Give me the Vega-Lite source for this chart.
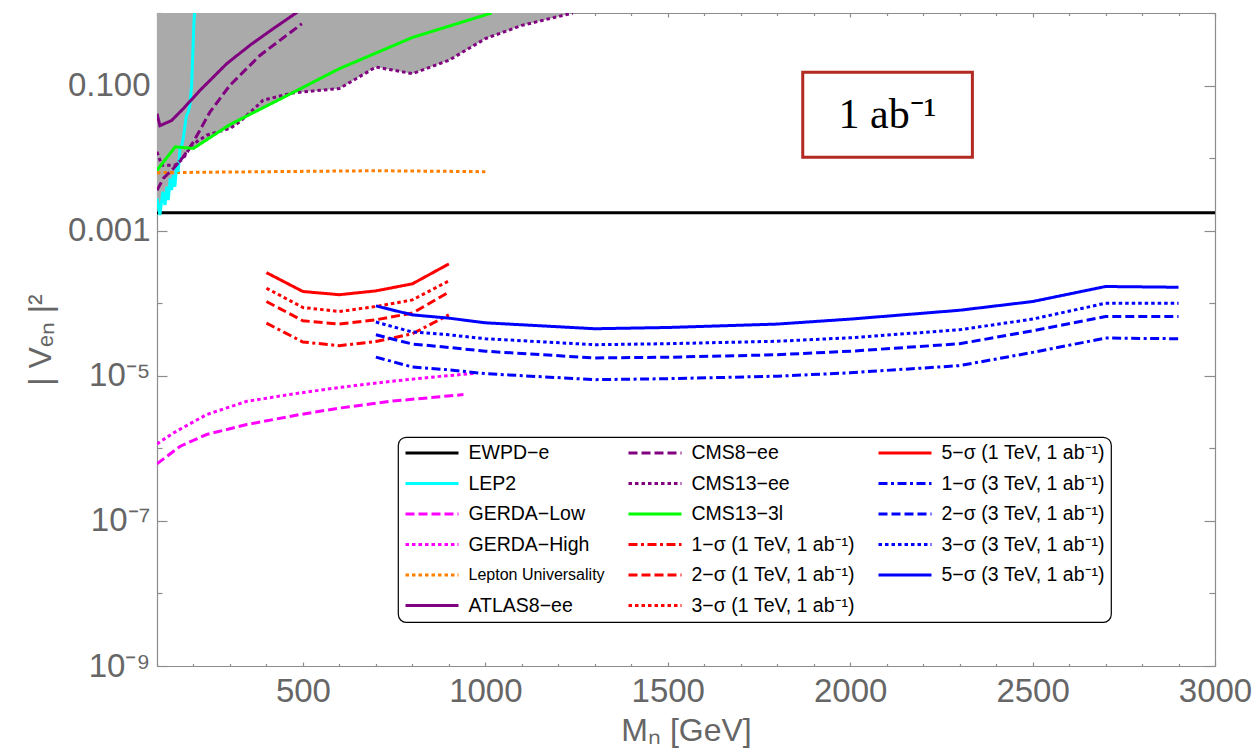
{
  "$schema": "https://vega.github.io/schema/vega-lite/v6.json",
  "width": 1058,
  "height": 653,
  "autosize": "none",
  "padding": {"left": 157, "top": 13, "right": 38, "bottom": 83},
  "background": "white",
  "datasets": {
    "curves": [
      {"series": "EWPD−e", "mass": 100, "mix": 0.00177},
      {"series": "EWPD−e", "mass": 3000, "mix": 0.00177},

      {"series": "Lepton Universality", "mass": 100, "mix": 0.0063},
      {"series": "Lepton Universality", "mass": 400, "mix": 0.0065},
      {"series": "Lepton Universality", "mass": 700, "mix": 0.0067},
      {"series": "Lepton Universality", "mass": 1000, "mix": 0.0065},

      {"series": "LEP2", "mass": 100, "mix": 0.00279},
      {"series": "LEP2", "mass": 108, "mix": 0.00164},
      {"series": "LEP2", "mass": 116, "mix": 0.00344},
      {"series": "LEP2", "mass": 122, "mix": 0.00226},
      {"series": "LEP2", "mass": 127, "mix": 0.00403},
      {"series": "LEP2", "mass": 131, "mix": 0.00264},
      {"series": "LEP2", "mass": 136, "mix": 0.00526},
      {"series": "LEP2", "mass": 140, "mix": 0.00363},
      {"series": "LEP2", "mass": 145, "mix": 0.00584},
      {"series": "LEP2", "mass": 149, "mix": 0.00403},
      {"series": "LEP2", "mass": 154, "mix": 0.00801},
      {"series": "LEP2", "mass": 158, "mix": 0.00648},
      {"series": "LEP2", "mass": 163, "mix": 0.0136},
      {"series": "LEP2", "mass": 168, "mix": 0.0151},
      {"series": "LEP2", "mass": 172, "mix": 0.0187},
      {"series": "LEP2", "mass": 177, "mix": 0.0284},
      {"series": "LEP2", "mass": 181, "mix": 0.039},
      {"series": "LEP2", "mass": 186, "mix": 0.0434},
      {"series": "LEP2", "mass": 190, "mix": 0.0536},
      {"series": "LEP2", "mass": 195, "mix": 0.101},
      {"series": "LEP2", "mass": 198, "mix": 0.261},
      {"series": "LEP2", "mass": 201, "mix": 0.675},
      {"series": "LEP2", "mass": 204, "mix": 1.3},

      {"series": "ATLAS8−ee", "mass": 100, "mix": 0.041},
      {"series": "ATLAS8−ee", "mass": 108, "mix": 0.028},
      {"series": "ATLAS8−ee", "mass": 140, "mix": 0.033},
      {"series": "ATLAS8−ee", "mass": 172, "mix": 0.048},
      {"series": "ATLAS8−ee", "mass": 218, "mix": 0.086},
      {"series": "ATLAS8−ee", "mass": 291, "mix": 0.2},
      {"series": "ATLAS8−ee", "mass": 355, "mix": 0.36},
      {"series": "ATLAS8−ee", "mass": 419, "mix": 0.61},
      {"series": "ATLAS8−ee", "mass": 485, "mix": 1.03},

      {"series": "CMS8−ee", "mass": 100, "mix": 0.0036},
      {"series": "CMS8−ee", "mass": 118, "mix": 0.0053},
      {"series": "CMS8−ee", "mass": 145, "mix": 0.0072},
      {"series": "CMS8−ee", "mass": 172, "mix": 0.0104},
      {"series": "CMS8−ee", "mass": 200, "mix": 0.0168},
      {"series": "CMS8−ee", "mass": 245, "mix": 0.043},
      {"series": "CMS8−ee", "mass": 300, "mix": 0.101},
      {"series": "CMS8−ee", "mass": 382, "mix": 0.26},
      {"series": "CMS8−ee", "mass": 497, "mix": 0.71},

      {"series": "CMS13−ee", "mass": 100, "mix": 0.0122},
      {"series": "CMS13−ee", "mass": 113, "mix": 0.008},
      {"series": "CMS13−ee", "mass": 150, "mix": 0.008},
      {"series": "CMS13−ee", "mass": 172, "mix": 0.0099},
      {"series": "CMS13−ee", "mass": 195, "mix": 0.0151},
      {"series": "CMS13−ee", "mass": 236, "mix": 0.0207},
      {"series": "CMS13−ee", "mass": 300, "mix": 0.0256},
      {"series": "CMS13−ee", "mass": 327, "mix": 0.0316},
      {"series": "CMS13−ee", "mass": 391, "mix": 0.0628},
      {"series": "CMS13−ee", "mass": 470, "mix": 0.079},
      {"series": "CMS13−ee", "mass": 600, "mix": 0.091},
      {"series": "CMS13−ee", "mass": 700, "mix": 0.18},
      {"series": "CMS13−ee", "mass": 800, "mix": 0.146},
      {"series": "CMS13−ee", "mass": 900, "mix": 0.223},
      {"series": "CMS13−ee", "mass": 1000, "mix": 0.443},
      {"series": "CMS13−ee", "mass": 1100, "mix": 0.675},
      {"series": "CMS13−ee", "mass": 1240, "mix": 1.0},

      {"series": "CMS13−3l", "mass": 100, "mix": 0.0068},
      {"series": "CMS13−3l", "mass": 150, "mix": 0.0143},
      {"series": "CMS13−3l", "mass": 200, "mix": 0.0136},
      {"series": "CMS13−3l", "mass": 300, "mix": 0.029},
      {"series": "CMS13−3l", "mass": 450, "mix": 0.07},
      {"series": "CMS13−3l", "mass": 600, "mix": 0.171},
      {"series": "CMS13−3l", "mass": 800, "mix": 0.46},
      {"series": "CMS13−3l", "mass": 1017, "mix": 1.0},

      {"series": "GERDA−High", "mass": 100, "mix": 1.15e-6},
      {"series": "GERDA−High", "mass": 145, "mix": 1.63e-6},
      {"series": "GERDA−High", "mass": 236, "mix": 2.92e-6},
      {"series": "GERDA−High", "mass": 346, "mix": 4.45e-6},
      {"series": "GERDA−High", "mass": 492, "mix": 5.8e-6},
      {"series": "GERDA−High", "mass": 602, "mix": 6.92e-6},
      {"series": "GERDA−High", "mass": 739, "mix": 8.37e-6},
      {"series": "GERDA−High", "mass": 876, "mix": 9.81e-6},
      {"series": "GERDA−High", "mass": 970, "mix": 1.08e-5},

      {"series": "GERDA−Low", "mass": 100, "mix": 6.12e-7},
      {"series": "GERDA−Low", "mass": 164, "mix": 1.07e-6},
      {"series": "GERDA−Low", "mass": 236, "mix": 1.55e-6},
      {"series": "GERDA−Low", "mass": 346, "mix": 2.13e-6},
      {"series": "GERDA−Low", "mass": 492, "mix": 2.92e-6},
      {"series": "GERDA−Low", "mass": 602, "mix": 3.6e-6},
      {"series": "GERDA−Low", "mass": 739, "mix": 4.45e-6},
      {"series": "GERDA−Low", "mass": 940, "mix": 5.5e-6},

      {"series": "5−σ (1 TeV, 1 ab⁻¹)", "mass": 400, "mix": 2.64e-4},
      {"series": "5−σ (1 TeV, 1 ab⁻¹)", "mass": 500, "mix": 1.45e-4},
      {"series": "5−σ (1 TeV, 1 ab⁻¹)", "mass": 600, "mix": 1.31e-4},
      {"series": "5−σ (1 TeV, 1 ab⁻¹)", "mass": 700, "mix": 1.48e-4},
      {"series": "5−σ (1 TeV, 1 ab⁻¹)", "mass": 800, "mix": 1.85e-4},
      {"series": "5−σ (1 TeV, 1 ab⁻¹)", "mass": 900, "mix": 3.48e-4},

      {"series": "3−σ (1 TeV, 1 ab⁻¹)", "mass": 400, "mix": 1.61e-4},
      {"series": "3−σ (1 TeV, 1 ab⁻¹)", "mass": 500, "mix": 8.73e-5},
      {"series": "3−σ (1 TeV, 1 ab⁻¹)", "mass": 600, "mix": 7.69e-5},
      {"series": "3−σ (1 TeV, 1 ab⁻¹)", "mass": 700, "mix": 9.01e-5},
      {"series": "3−σ (1 TeV, 1 ab⁻¹)", "mass": 800, "mix": 1.11e-4},
      {"series": "3−σ (1 TeV, 1 ab⁻¹)", "mass": 900, "mix": 2.03e-4},

      {"series": "2−σ (1 TeV, 1 ab⁻¹)", "mass": 400, "mix": 1.055e-4},
      {"series": "2−σ (1 TeV, 1 ab⁻¹)", "mass": 500, "mix": 5.73e-5},
      {"series": "2−σ (1 TeV, 1 ab⁻¹)", "mass": 600, "mix": 5.16e-5},
      {"series": "2−σ (1 TeV, 1 ab⁻¹)", "mass": 700, "mix": 5.91e-5},
      {"series": "2−σ (1 TeV, 1 ab⁻¹)", "mass": 800, "mix": 7.31e-5},
      {"series": "2−σ (1 TeV, 1 ab⁻¹)", "mass": 900, "mix": 1.42e-4},

      {"series": "1−σ (1 TeV, 1 ab⁻¹)", "mass": 400, "mix": 5.32e-5},
      {"series": "1−σ (1 TeV, 1 ab⁻¹)", "mass": 500, "mix": 2.92e-5},
      {"series": "1−σ (1 TeV, 1 ab⁻¹)", "mass": 600, "mix": 2.6e-5},
      {"series": "1−σ (1 TeV, 1 ab⁻¹)", "mass": 700, "mix": 2.97e-5},
      {"series": "1−σ (1 TeV, 1 ab⁻¹)", "mass": 800, "mix": 3.79e-5},
      {"series": "1−σ (1 TeV, 1 ab⁻¹)", "mass": 900, "mix": 6.92e-5},

      {"series": "5−σ (3 TeV, 1 ab⁻¹)", "mass": 700, "mix": 9.18e-5},
      {"series": "5−σ (3 TeV, 1 ab⁻¹)", "mass": 800, "mix": 6.91e-5},
      {"series": "5−σ (3 TeV, 1 ab⁻¹)", "mass": 900, "mix": 6.23e-5},
      {"series": "5−σ (3 TeV, 1 ab⁻¹)", "mass": 1000, "mix": 5.37e-5},
      {"series": "5−σ (3 TeV, 1 ab⁻¹)", "mass": 1300, "mix": 4.45e-5},
      {"series": "5−σ (3 TeV, 1 ab⁻¹)", "mass": 1500, "mix": 4.63e-5},
      {"series": "5−σ (3 TeV, 1 ab⁻¹)", "mass": 1800, "mix": 5.16e-5},
      {"series": "5−σ (3 TeV, 1 ab⁻¹)", "mass": 2000, "mix": 6.04e-5},
      {"series": "5−σ (3 TeV, 1 ab⁻¹)", "mass": 2300, "mix": 8.0e-5},
      {"series": "5−σ (3 TeV, 1 ab⁻¹)", "mass": 2500, "mix": 1.055e-4},
      {"series": "5−σ (3 TeV, 1 ab⁻¹)", "mass": 2700, "mix": 1.7e-4},
      {"series": "5−σ (3 TeV, 1 ab⁻¹)", "mass": 2900, "mix": 1.66e-4},

      {"series": "3−σ (3 TeV, 1 ab⁻¹)", "mass": 700, "mix": 5.5e-5},
      {"series": "3−σ (3 TeV, 1 ab⁻¹)", "mass": 800, "mix": 4.01e-5},
      {"series": "3−σ (3 TeV, 1 ab⁻¹)", "mass": 900, "mix": 3.67e-5},
      {"series": "3−σ (3 TeV, 1 ab⁻¹)", "mass": 1000, "mix": 3.24e-5},
      {"series": "3−σ (3 TeV, 1 ab⁻¹)", "mass": 1300, "mix": 2.68e-5},
      {"series": "3−σ (3 TeV, 1 ab⁻¹)", "mass": 1500, "mix": 2.77e-5},
      {"series": "3−σ (3 TeV, 1 ab⁻¹)", "mass": 1800, "mix": 2.99e-5},
      {"series": "3−σ (3 TeV, 1 ab⁻¹)", "mass": 2000, "mix": 3.34e-5},
      {"series": "3−σ (3 TeV, 1 ab⁻¹)", "mass": 2300, "mix": 4.31e-5},
      {"series": "3−σ (3 TeV, 1 ab⁻¹)", "mass": 2500, "mix": 6.04e-5},
      {"series": "3−σ (3 TeV, 1 ab⁻¹)", "mass": 2700, "mix": 1.0e-4},
      {"series": "3−σ (3 TeV, 1 ab⁻¹)", "mass": 2900, "mix": 1.0e-4},

      {"series": "2−σ (3 TeV, 1 ab⁻¹)", "mass": 700, "mix": 3.67e-5},
      {"series": "2−σ (3 TeV, 1 ab⁻¹)", "mass": 800, "mix": 2.74e-5},
      {"series": "2−σ (3 TeV, 1 ab⁻¹)", "mass": 900, "mix": 2.46e-5},
      {"series": "2−σ (3 TeV, 1 ab⁻¹)", "mass": 1000, "mix": 2.18e-5},
      {"series": "2−σ (3 TeV, 1 ab⁻¹)", "mass": 1300, "mix": 1.76e-5},
      {"series": "2−σ (3 TeV, 1 ab⁻¹)", "mass": 1500, "mix": 1.8e-5},
      {"series": "2−σ (3 TeV, 1 ab⁻¹)", "mass": 1800, "mix": 1.95e-5},
      {"series": "2−σ (3 TeV, 1 ab⁻¹)", "mass": 2000, "mix": 2.18e-5},
      {"series": "2−σ (3 TeV, 1 ab⁻¹)", "mass": 2300, "mix": 2.76e-5},
      {"series": "2−σ (3 TeV, 1 ab⁻¹)", "mass": 2500, "mix": 4.17e-5},
      {"series": "2−σ (3 TeV, 1 ab⁻¹)", "mass": 2700, "mix": 6.56e-5},
      {"series": "2−σ (3 TeV, 1 ab⁻¹)", "mass": 2900, "mix": 6.56e-5},

      {"series": "1−σ (3 TeV, 1 ab⁻¹)", "mass": 700, "mix": 1.81e-5},
      {"series": "1−σ (3 TeV, 1 ab⁻¹)", "mass": 800, "mix": 1.32e-5},
      {"series": "1−σ (3 TeV, 1 ab⁻¹)", "mass": 900, "mix": 1.21e-5},
      {"series": "1−σ (3 TeV, 1 ab⁻¹)", "mass": 1000, "mix": 1.07e-5},
      {"series": "1−σ (3 TeV, 1 ab⁻¹)", "mass": 1300, "mix": 8.84e-6},
      {"series": "1−σ (3 TeV, 1 ab⁻¹)", "mass": 1500, "mix": 9.12e-6},
      {"series": "1−σ (3 TeV, 1 ab⁻¹)", "mass": 1800, "mix": 9.87e-6},
      {"series": "1−σ (3 TeV, 1 ab⁻¹)", "mass": 2000, "mix": 1.1e-5},
      {"series": "1−σ (3 TeV, 1 ab⁻¹)", "mass": 2300, "mix": 1.38e-5},
      {"series": "1−σ (3 TeV, 1 ab⁻¹)", "mass": 2500, "mix": 2.1e-5},
      {"series": "1−σ (3 TeV, 1 ab⁻¹)", "mass": 2700, "mix": 3.31e-5},
      {"series": "1−σ (3 TeV, 1 ab⁻¹)", "mass": 2900, "mix": 3.24e-5}
    ],
    "tag": [
      {"left": 1870, "right": 2335, "low": 0.0103, "high": 0.152, "mid": 2102, "centre": 0.0397, "text": "1 ab⁻¹"}
    ]
  },
  "layer": [
    {
      "data": {"name": "curves"},
      "transform": [{"filter": {"field": "series", "oneOf": ["LEP2", "ATLAS8−ee", "CMS8−ee", "CMS13−ee", "CMS13−3l"]}}],
      "mark": {"type": "area", "color": "#aaaaaa", "clip": true},
      "encoding": {
        "x": {
          "field": "mass", "type": "quantitative",
          "scale": {"domain": [100, 3000], "nice": false, "zero": false},
          "axis": {
            "orient": "bottom",
            "values": [100, 200, 300, 400, 500, 600, 700, 800, 900, 1000, 1100, 1200, 1300, 1400, 1500, 1600, 1700, 1800, 1900, 2000, 2100, 2200, 2300, 2400, 2500, 2600, 2700, 2800, 2900, 3000],
            "format": "d",
            "labelExpr": "datum.value % 500 == 0 ? datum.label : ''",
            "tickSize": {"condition": {"test": "datum.value % 500 == 0", "value": -4}, "value": -2.5},
            "labelPadding": 13,
            "title": "Mₙ [GeV]",
            "titlePadding": 6
          }
        },
        "y": {
          "field": "mix", "type": "quantitative",
          "scale": {"type": "log", "domain": [1e-9, 1], "nice": false},
          "axis": {
            "orient": "left",
            "values": [1e-9, 1e-8, 1e-7, 1e-6, 1e-5, 1e-4, 1e-3, 1e-2, 1e-1, 1],
            "labelExpr": "datum.value == 0.1 ? '0.100' : datum.value == 0.001 ? '0.001' : datum.value == 0.00001 ? '10⁻⁵' : datum.value == 0.0000001 ? '10⁻⁷' : datum.value == 0.000000001 ? '10⁻⁹' : ''",
            "tickSize": {"condition": {"test": "datum.value == 0.1 || datum.value == 0.001 || datum.value == 0.00001 || datum.value == 0.0000001 || datum.value == 0.000000001", "value": -10}, "value": -5},
            "labelPadding": 17,
            "title": "|   Vₑₙ   |²",
            "titlePadding": 10
          }
        },
        "y2": {"datum": 1},
        "detail": {"field": "series"}
      }
    },
    {
      "data": {"name": "tag"},
      "mark": {"type": "rect", "fill": "white", "stroke": "#b22a22", "strokeWidth": 3},
      "encoding": {
        "x": {"field": "left", "type": "quantitative", "axis": null},
        "x2": {"field": "right"},
        "y": {"field": "low", "type": "quantitative", "axis": null},
        "y2": {"field": "high"}
      }
    },
    {
      "data": {"name": "tag"},
      "mark": {"type": "text", "font": "Liberation Serif", "fontSize": 42, "color": "black", "align": "center", "baseline": "middle"},
      "encoding": {
        "x": {"field": "mid", "type": "quantitative", "axis": null},
        "y": {"field": "centre", "type": "quantitative", "axis": null},
        "text": {"field": "text"}
      }
    },
    {
      "data": {"name": "curves"},
      "mark": {"type": "line", "clip": true, "strokeWidth": 3},
      "encoding": {
        "x": {
          "field": "mass", "type": "quantitative",
          "axis": {
            "orient": "top",
            "values": [100, 200, 300, 400, 500, 600, 700, 800, 900, 1000, 1100, 1200, 1300, 1400, 1500, 1600, 1700, 1800, 1900, 2000, 2100, 2200, 2300, 2400, 2500, 2600, 2700, 2800, 2900, 3000],
            "labels": false,
            "title": null,
            "tickSize": {"condition": {"test": "datum.value % 500 == 0", "value": -4}, "value": -2.5}
          }
        },
        "y": {
          "field": "mix", "type": "quantitative",
          "axis": {
            "orient": "right",
            "values": [1e-9, 1e-8, 1e-7, 1e-6, 1e-5, 1e-4, 1e-3, 1e-2, 1e-1, 1],
            "labels": false,
            "title": null,
            "tickSize": {"condition": {"test": "datum.value == 0.1 || datum.value == 0.001 || datum.value == 0.00001 || datum.value == 0.0000001 || datum.value == 0.000000001", "value": -11}, "value": -6}
          }
        },
        "color": {
          "field": "series", "type": "nominal",
          "scale": {
            "domain": ["EWPD−e", "LEP2", "GERDA−Low", "GERDA−High", "Lepton Universality", "ATLAS8−ee", "CMS8−ee", "CMS13−ee", "CMS13−3l", "1−σ (1 TeV, 1 ab⁻¹)", "2−σ (1 TeV, 1 ab⁻¹)", "3−σ (1 TeV, 1 ab⁻¹)", "5−σ (1 TeV, 1 ab⁻¹)", "1−σ (3 TeV, 1 ab⁻¹)", "2−σ (3 TeV, 1 ab⁻¹)", "3−σ (3 TeV, 1 ab⁻¹)", "5−σ (3 TeV, 1 ab⁻¹)"],
            "range": ["#000000", "#00ffff", "#ff00ff", "#ff00ff", "#ff8000", "#800080", "#800080", "#800080", "#00ff00", "#ff0000", "#ff0000", "#ff0000", "#ff0000", "#0000ff", "#0000ff", "#0000ff", "#0000ff"]
          },
          "legend": {
            "title": null,
            "orient": "none",
            "legendX": 241,
            "legendY": 424,
            "columns": 3,
            "symbolType": "stroke",
            "symbolSize": 2809,
            "symbolStrokeWidth": 3,
            "clipHeight": 20,
            "labelFont": "Liberation Sans",
            "labelFontSize": {"expr": "datum.label == 'Lepton Universality' ? 16 : 19.5"},
            "labelColor": "black",
            "labelLimit": 400,
            "labelOffset": 8.5,
            "columnPadding": 22,
            "rowPadding": 10.5,
            "padding": 6,
            "strokeColor": "black",
            "cornerRadius": 8,
            "fillColor": "white"
          }
        },
        "strokeDash": {
          "field": "series", "type": "nominal",
          "scale": {
            "domain": ["EWPD−e", "LEP2", "GERDA−Low", "GERDA−High", "Lepton Universality", "ATLAS8−ee", "CMS8−ee", "CMS13−ee", "CMS13−3l", "1−σ (1 TeV, 1 ab⁻¹)", "2−σ (1 TeV, 1 ab⁻¹)", "3−σ (1 TeV, 1 ab⁻¹)", "5−σ (1 TeV, 1 ab⁻¹)", "1−σ (3 TeV, 1 ab⁻¹)", "2−σ (3 TeV, 1 ab⁻¹)", "3−σ (3 TeV, 1 ab⁻¹)", "5−σ (3 TeV, 1 ab⁻¹)"],
            "range": [[1, 0], [1, 0], [9, 4], [3.5, 3], [3.5, 3], [1, 0], [9, 4], [3.5, 3], [1, 0], [9, 3.5, 3, 3.5], [9, 4], [3.5, 3], [1, 0], [9, 3.5, 3, 3.5], [9, 4], [3.5, 3], [1, 0]]
          },
          "legend": {
            "title": null,
            "orient": "none",
            "legendX": 241,
            "legendY": 424,
            "columns": 3
          }
        },
        "detail": {"field": "series"}
      }
    }
  ],
  "resolve": {"axis": {"x": "independent", "y": "independent"}},
  "config": {
    "view": {"stroke": null},
    "axis": {
      "grid": false,
      "labelFont": "Liberation Sans",
      "titleFont": "Liberation Sans",
      "labelFontSize": 33,
      "titleFontSize": 32,
      "titleFontWeight": "normal",
      "labelColor": "#666666",
      "titleColor": "#666666",
      "domainColor": "#8c8c8c",
      "domainWidth": 1.2,
      "tickColor": "#8c8c8c",
      "tickWidth": 1.2,
      "labelFlush": false,
      "labelOverlap": false
    },
    "legend": {
      "strokeWidth": 1.2
    }
  }
}
